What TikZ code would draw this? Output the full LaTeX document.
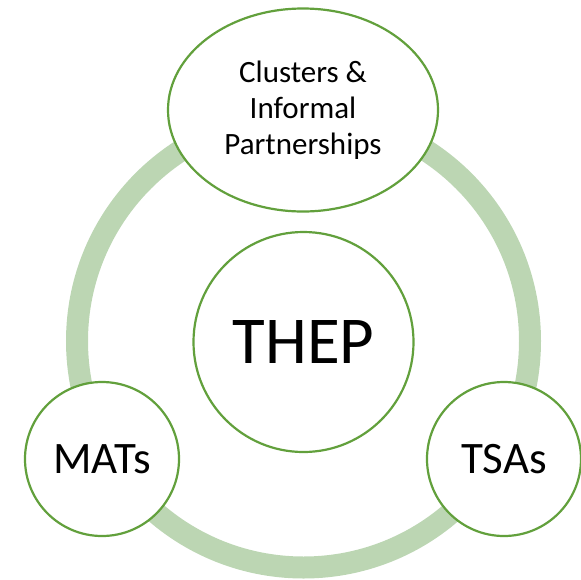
\documentclass[tikz,border=0pt]{standalone}
\usepackage{fontspec}
\setmainfont{Carlito}
\usetikzlibrary{shapes.geometric}
\definecolor{ringgreen}{HTML}{BCD6B3}
\definecolor{edgegreen}{HTML}{62A03C}
\begin{document}
\begin{tikzpicture}[x=1pt,y=-1pt,
  bubble/.style={draw=edgegreen,line width=2.2pt,fill=white,inner sep=0pt,align=center,text=black}]
\useasboundingbox (0,0) rectangle (581,579);
\draw[ringgreen,line width=22pt] (303.5,341) circle[radius=226.5];
\node[bubble,circle,minimum size=220pt,font=\fontsize{67}{80}\selectfont] (thep) at (303.5,342) {THEP};
\node[bubble,ellipse,minimum width=270pt,minimum height=203pt,font=\fontsize{31}{36}\selectfont] (clus) at (303,110) {Clusters \&\\Informal\\Partnerships};
\node[bubble,circle,minimum size=154pt,font=\fontsize{45}{50}\selectfont] (mats) at (102,459) {MATs};
\node[bubble,circle,minimum size=154pt,font=\fontsize{45}{50}\selectfont] (tsas) at (504,459) {TSAs};
\end{tikzpicture}
\end{document}
